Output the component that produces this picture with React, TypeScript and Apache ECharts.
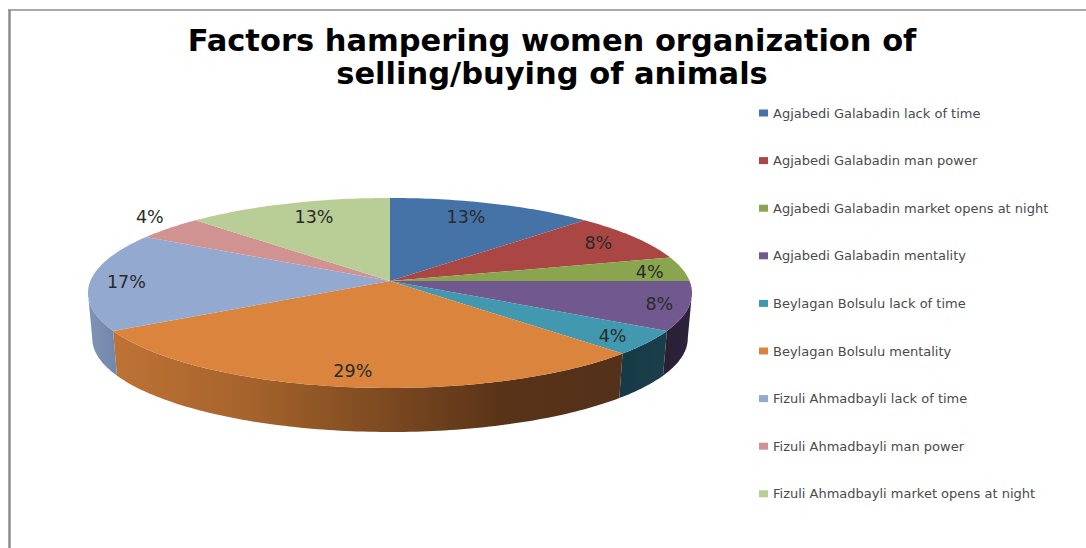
import React, { useEffect, useRef } from "react";
import * as echarts from "echarts";

const titleLines = ["Factors hampering women organization of", "selling/buying of animals"];

const categories = [
  "Agjabedi Galabadin lack of time",
  "Agjabedi Galabadin man power",
  "Agjabedi Galabadin market opens at night",
  "Agjabedi Galabadin mentality",
  "Beylagan Bolsulu lack of time",
  "Beylagan Bolsulu mentality",
  "Fizuli Ahmadbayli lack of time",
  "Fizuli Ahmadbayli man power",
  "Fizuli Ahmadbayli market opens at night",
];

// Responses per factor; the printed percentages are these shares, rounded.
const responses = [3, 2, 1, 2, 1, 7, 4, 1, 3];

const faceColors = ["#4572A7", "#AA4643", "#89A54E", "#71588F", "#4198AF", "#DB843D", "#93A9CF", "#D19392", "#B9CD96"];

// Wall shading, left to right across the front of the disc.
const wallStops: [number, string][][] = [
  [[0, "#4572A7"], [1, "#2a4566"]],
  [[0, "#AA4643"], [1, "#5c2624"]],
  [[0, "#89A54E"], [1, "#4a5a2a"]],
  [[0, "#2e233b"], [1, "#2a2036"]],
  [[0, "#1a3e4b"], [1, "#183a47"]],
  [[0, "#BE7235"], [0.27, "#A5632C"], [0.55, "#7A4820"], [0.77, "#593318"], [1, "#54311a"]],
  [[0, "#7388ad"], [1, "#7f94b4"]],
  [[0, "#D19392"], [1, "#a06f6e"]],
  [[0, "#B9CD96"], [1, "#8b9c70"]],
];

// Distance of each percentage label from the centre, as a fraction of the radius,
// and a small hand nudge in pixels so that the labels sit clear of the slice edges.
const labelReach = [0.78, 0.85, 0.88, 0.9, 0.87, 0.85, 0.88, 1.14, 0.78];
const labelNudge = [[-6, -2], [-1, 0], [2, 2], [1, 1], [1, 2], [0, 2], [0, 1], [9, -4], [6, -2]];

// Disc projection: the apex, the radius, the vertical squash and the perspective strength.
const CX = 390;
const CY = 281;
const RX = 299.6;
const RY = 93.5;
const PERSP = 0.126;
const DEPTH = 45.5;
const BASE_SCALE = 0.986;

const total = responses.reduce((a, b) => a + b, 0);
const startShares = responses.map((_, i) => responses.slice(0, i).reduce((a, b) => a + b, 0) / total);

function project(theta: number, reach: number) {
  const u = Math.sin(theta) * reach;
  const v = -Math.cos(theta) * reach;
  const k = 1 / (1 - PERSP * v);
  return [u * RX * k, v * RY * k];
}

const rimTop = (t: number) => {
  const [x, y] = project(t, 1);
  return [CX + x, CY + y];
};
const rimBase = (t: number) => {
  const [x, y] = project(t, 1);
  return [CX + x * BASE_SCALE, CY + DEPTH + y * BASE_SCALE];
};

function arcAngles(a: number, b: number) {
  const steps = Math.max(2, Math.ceil(((b - a) * 180) / Math.PI));
  const out: number[] = [];
  for (let i = 0; i <= steps; i++) out.push(a + ((b - a) * i) / steps);
  return out;
}

// The wall is visible between the two silhouette tangents of the projected disc.
const WALL_FROM = Math.PI - Math.acos(PERSP);
const WALL_TO = Math.PI + Math.acos(PERSP);

function makeRenderItem(index: number) {
  return (_params: any, api: any) => {
    const share = api.value(0) / total;
    const a = startShares[index] * Math.PI * 2;
    const b = a + share * Math.PI * 2;
    const children: any[] = [];

    const wa = Math.max(a, WALL_FROM);
    const wb = Math.min(b, WALL_TO);
    if (wb > wa) {
      const angles = arcAngles(wa, wb);
      const pts = angles.map(rimTop).concat(angles.slice().reverse().map(rimBase));
      children.push({
        type: "polygon",
        shape: { points: pts },
        style: {
          fill: {
            type: "linear",
            global: true,
            x: wallStops[index].length > 2 ? 115 : rimTop(wa)[0],
            y: 0,
            x2: wallStops[index].length > 2 ? 620 : rimTop(wb)[0],
            y2: 0,
            colorStops: wallStops[index].map(([offset, color]) => ({ offset, color })),
          },
          stroke: null,
        },
      });
    }

    const face = [[CX, CY]].concat(arcAngles(a, b).map(rimTop));
    children.push({
      type: "polygon",
      shape: { points: face },
      style: { fill: faceColors[index], stroke: null },
    });

    const mid = (a + b) / 2;
    const [lx, ly] = project(mid, labelReach[index]);
    children.push({
      type: "text",
      z2: 10,
      x: CX + lx + labelNudge[index][0],
      y: CY + ly + labelNudge[index][1],
      style: {
        text: `${Math.round(share * 100)}%`,
        fontFamily: "DejaVu Sans",
        fontSize: 17.5,
        fill: "#2a2a2a",
        align: "center",
        verticalAlign: "middle",
      },
    });

    return { type: "group", children };
  };
}

export default function App() {
  const ref = useRef<HTMLDivElement>(null);

  useEffect(() => {
    document.body.style.margin = "0";
    const chart = echarts.init(ref.current!, undefined, { renderer: "svg" });
    chart.setOption({
      animation: false,
      backgroundColor: "#fff",
      title: {
        text: titleLines.join("\n"),
        left: 547,
        top: 19,
        textAlign: "center",
        textStyle: {
          fontFamily: "DejaVu Sans",
          fontWeight: "bold",
          fontSize: 30.5,
          lineHeight: 33,
          color: "#000",
        },
      },
      legend: {
        orient: "vertical",
        left: 754,
        top: 99,
        itemWidth: 9,
        itemHeight: 7,
        itemGap: 29.6,
        icon: "rect",
        data: categories,
        selectedMode: false,
        textStyle: { fontFamily: "DejaVu Sans", fontSize: 13, lineHeight: 18, color: "#4a4a4a" },
      },
      graphic: [
        {
          type: "line",
          silent: true,
          shape: { x1: 9.5, y1: 10, x2: 9.5, y2: 548 },
          style: { stroke: "#8c8c8c", lineWidth: 2.5 },
        },
        {
          type: "line",
          silent: true,
          shape: { x1: 8, y1: 10, x2: 1086, y2: 10 },
          style: { stroke: "#8c8c8c", lineWidth: 1.5 },
        },
      ],
      series: categories.map((name, i) => ({
        type: "custom",
        name,
        coordinateSystem: "none",
        itemStyle: { color: faceColors[i] },
        renderItem: makeRenderItem(i),
        data: [[responses[i]]],
      })),
    });
    return () => chart.dispose();
  }, []);

  return <div ref={ref} style={{ position: "absolute", left: 0, top: 0, width: 1086, height: 548 }} />;
}
